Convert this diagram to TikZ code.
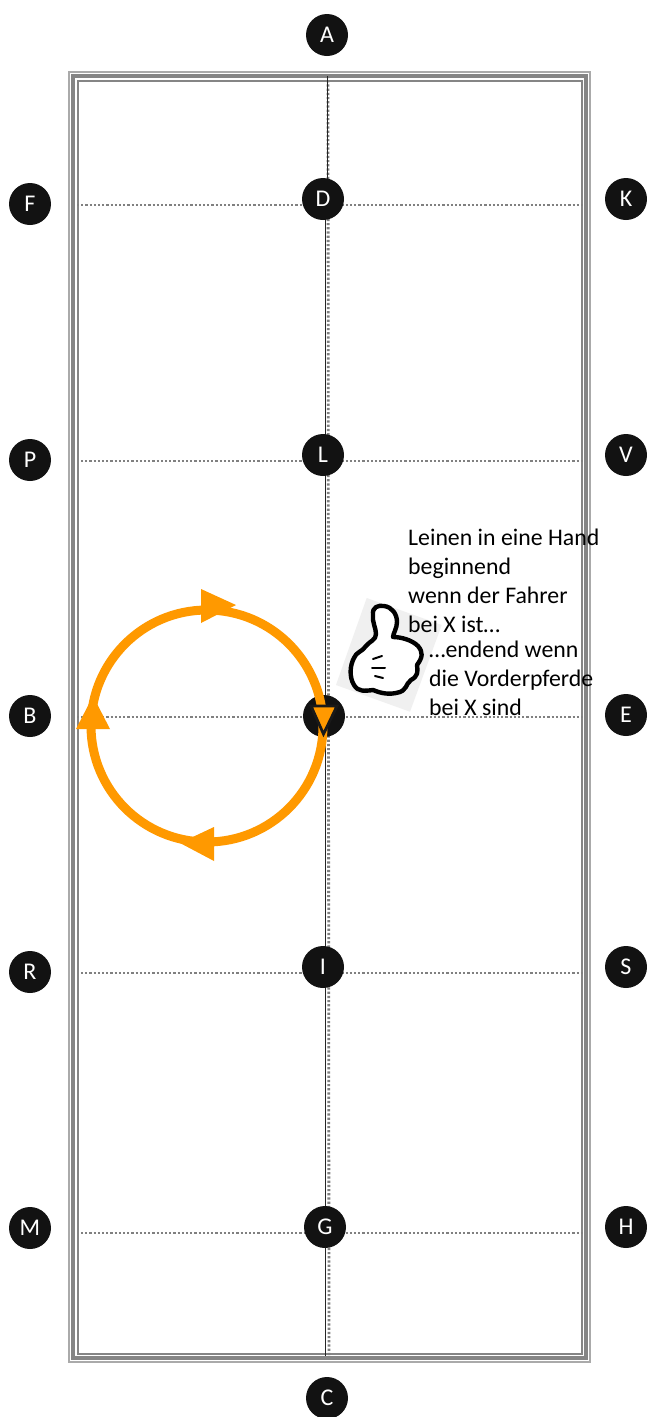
\documentclass[tikz,border=0pt]{standalone}
\usepackage{fontspec}
\setmainfont{Carlito}
\definecolor{ring}{HTML}{FF9900}
\definecolor{rail}{HTML}{858585}
\definecolor{dot}{HTML}{808080}
\tikzset{
  marker/.style={circle,fill=black!93,draw=none,minimum size=42pt,inner sep=0pt,text=white,font=\fontsize{24}{28}\selectfont},
  railline/.style={draw=rail,line join=miter},
  dotline/.style={draw=dot,line width=2.8pt,dash pattern=on 2.2pt off 2pt},
  axis/.style={draw=black!85,line width=1pt},
  note/.style={align=left,anchor=north west,inner sep=0pt,font=\fontsize{23.8}{29}\selectfont},
  ringline/.style={draw=ring,line width=9pt},
  head/.style={fill=ring,draw=none},
}
\begin{document}
\begin{tikzpicture}[x=1pt,y=-1pt]
\useasboundingbox (0,0) rectangle (646,1417);
\fill[white] (0,0) rectangle (646,1417);
% arena rails
\draw[railline,line width=2pt,draw=rail!70] (68.8,71.8) rectangle (590.2,1362.2);
\draw[railline,line width=4.4pt] (72.8,75.8) rectangle (586,1358);
\draw[railline,line width=2pt] (77.5,80.5) rectangle (581.5,1354);
% coordinates
\coordinate (lineTop) at (327,76);
\coordinate (lineBot) at (325,1356);
\coordinate (dotTop) at (328,76);
\coordinate (dotBot) at (329,1355);
\coordinate (f0) at (77,205); \coordinate (k0) at (584,205);
\coordinate (p0) at (81,461); \coordinate (v0) at (584,461);
\coordinate (b0) at (77,717); \coordinate (e0) at (584,717);
\coordinate (r0) at (81,973); \coordinate (s0) at (584,973);
\coordinate (m0) at (81,1233); \coordinate (h0) at (584,1233);
% grid lines
\draw[dotline] (dotTop) -- (dotBot);
\draw[dotline] (f0) -- (k0);
\draw[dotline] (p0) -- (v0);
\draw[dotline] (b0) -- (e0);
\draw[dotline] (r0) -- (s0);
\draw[dotline] (m0) -- (h0);
\draw[axis] (lineTop) -- (327,199);
\draw[axis] (325,199) -- (lineBot);
% markers
\node[marker] (A) at (327,35) {A};
\node[marker] (F) at (30,204) {F};
\node[marker] (D) at (323,199) {D};
\node[marker] (K) at (626,199) {K};
\node[marker] (P) at (30,460) {P};
\node[marker] (L) at (323,455) {L};
\node[marker] (V) at (626,455) {V};
\node[marker] (B) at (30,716) {B};
\node[marker] (X) at (324,716) {};
\node[marker] (E) at (626,715) {E};
\node[marker] (R) at (30,972) {R};
\node[marker] (I) at (323,967) {I};
\node[marker] (S) at (626,967) {S};
\node[marker] (M) at (30,1228) {M};
\node[marker] (G) at (325,1227) {G};
\node[marker] (H) at (626,1227) {H};
\node[marker] (C) at (327,1398) {C};
% ring
\draw[ringline] (207,726) circle[radius=116];
\fill[head] (201,589) -- (236,605) -- (201,623) -- cycle;
\fill[head] (76,729) -- (93,696) -- (110,729) -- cycle;
\fill[head] (214,827) -- (180,843) -- (214,861) -- cycle;
\filldraw[fill=ring,draw=black!90,line width=2.8pt,line join=miter] (311,706) -- (337,706) -- (323.5,734) -- cycle;
% hand
\fill[black!6] (366.7,598) -- (441.7,625) -- (410,711.7) -- (336,685) -- cycle;
\draw[fill=white,draw=black,line width=4.4pt,line join=round]
  (373,615) .. controls (372,607) and (378,605) .. (384,606)
  .. controls (392,607) and (397,614) .. (397,622)
  .. controls (397,628) and (393,634) .. (393,637)
  .. controls (401,637) and (412,640) .. (418,646)
  .. controls (423,652) and (423,657) .. (417,665)
  .. controls (418,672) and (418,676) .. (411,680)
  .. controls (405,684) and (408,691) .. (396,693)
  .. controls (386,695) and (378,692) .. (373,690)
  .. controls (365,691) and (358,692) .. (354,685)
  .. controls (349,677) and (350,665) .. (354,658)
  .. controls (356,652) and (362,652) .. (366,646)
  .. controls (370,641) and (376,640) .. (376,634)
  .. controls (376,628) and (372,622) .. (373,615) -- cycle;
\draw[black,line width=2pt,line cap=round] (373,659) -- (382,656);
\draw[black,line width=2pt,line cap=round] (372,668) -- (385,668);
\draw[black,line width=2pt,line cap=round] (375,676) -- (383,678);
% notes
\node[note] (n1) at (408,529) {Leinen in eine Hand\\beginnend\\wenn der Fahrer\\bei X ist…};
\node[note] (n2) at (429,641) {…endend wenn\\die Vorderpferde\\bei X sind};
\end{tikzpicture}
\end{document}
